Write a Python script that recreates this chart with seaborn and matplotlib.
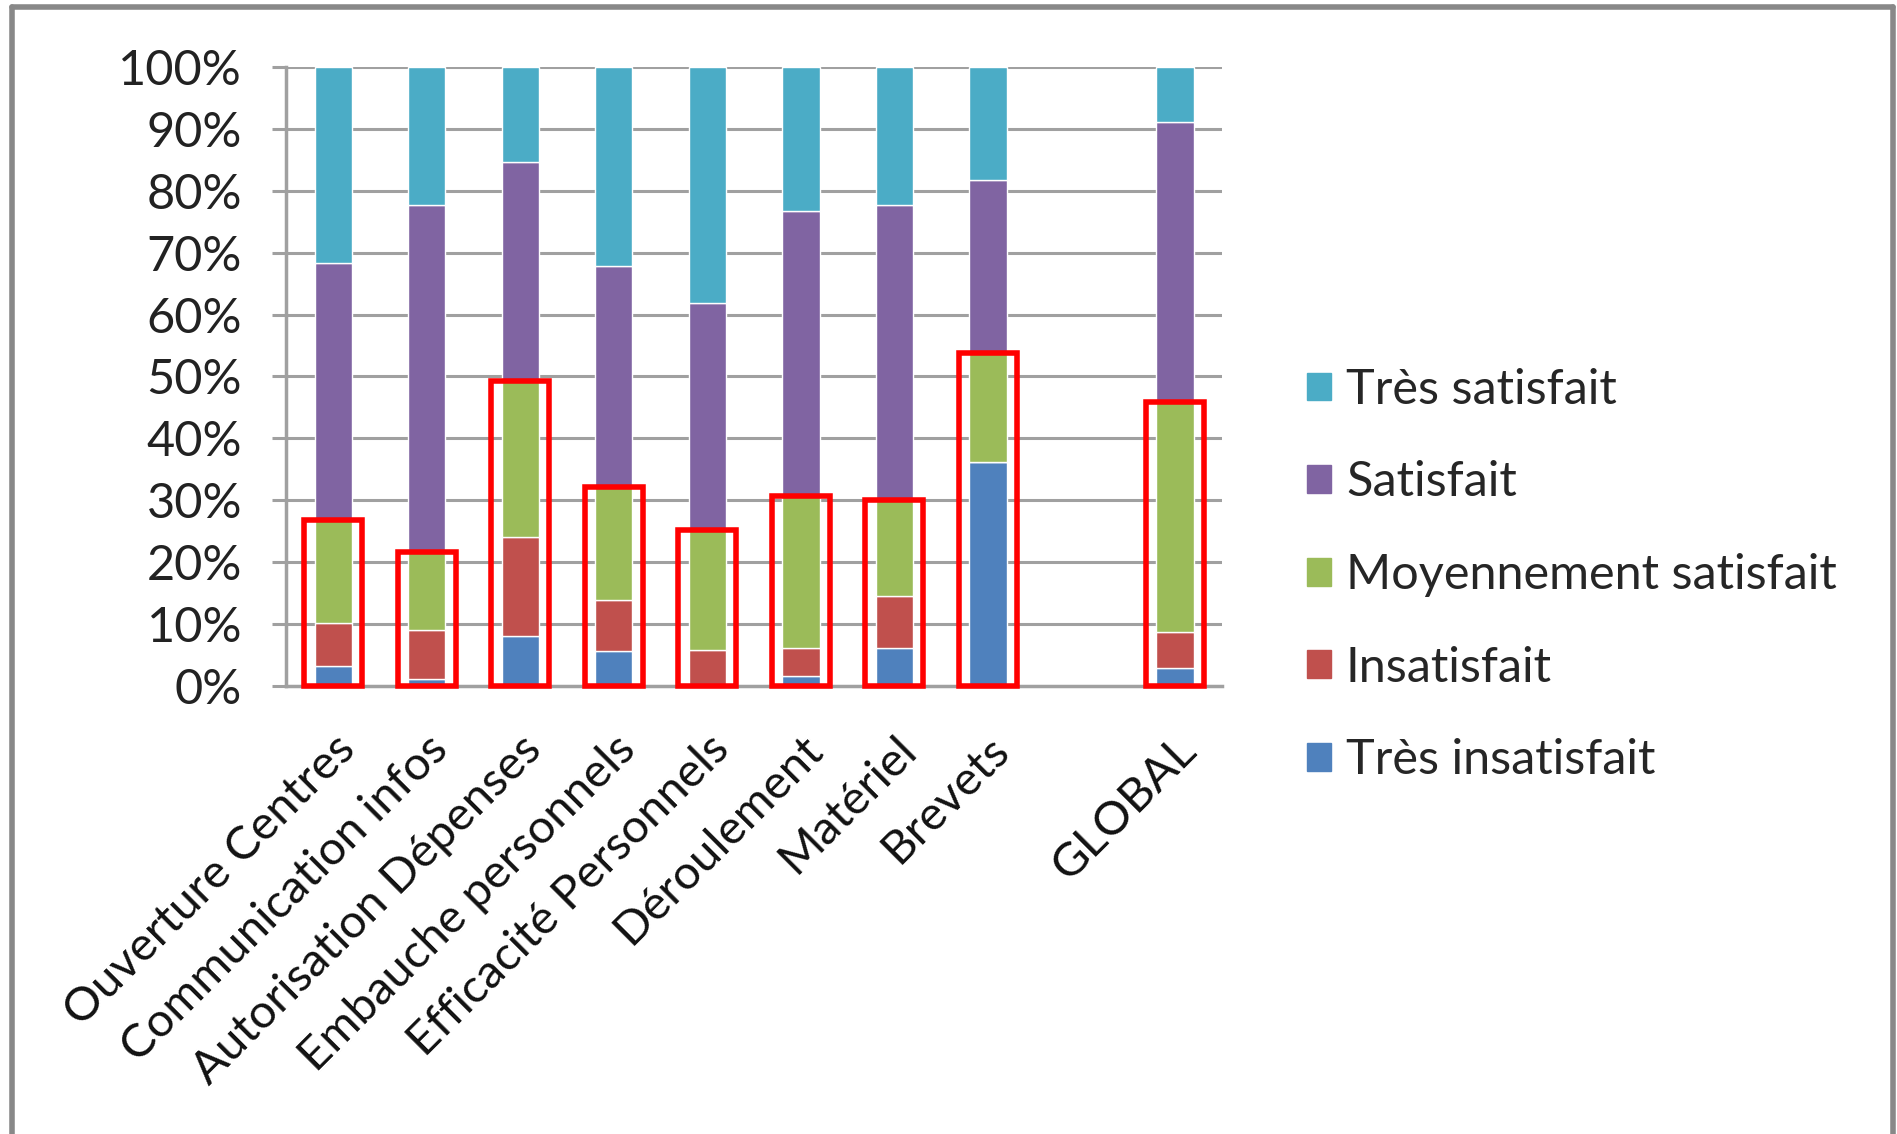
import pandas as pd
import matplotlib.pyplot as plt
import matplotlib.patches as mpatches
from matplotlib.lines import Line2D
import seaborn as sns


# Categories (empty slot between Brevets and GLOBAL like in the original sheet)
categories = ['Ouverture Centres', 'Communication infos', 'Autorisation Dépenses',
              'Embauche personnels', 'Efficacité Personnels', 'Déroulement',
              'Matériel', 'Brevets', '', 'GLOBAL']

# Shares in %
tres_insatisfait = [3.3, 1.2, 8.1, 5.7, 0.0, 1.6, 6.1, 36.2, 0.0, 2.9]
insatisfait = [6.9, 7.8, 15.9, 8.2, 5.8, 4.5, 8.5, 0.0, 0.0, 5.8]
moyennement = [16.7, 12.6, 25.2, 18.3, 19.4, 24.6, 15.4, 17.6, 0.0, 37.1]
satisfait = [41.4, 56.1, 35.4, 35.7, 36.7, 46.1, 47.7, 27.9, 0.0, 45.3]
tres_satisfait = [31.7, 22.3, 15.4, 32.1, 38.1, 23.2, 22.3, 18.3, 0.0, 8.9]

series = ['Très insatisfait', 'Insatisfait', 'Moyennement satisfait', 'Satisfait', 'Très satisfait']
colors = ['#4F81BD', '#C0504D', '#9BBB59', '#8064A2', '#4BACC6']

df = pd.DataFrame({
    'cat': categories,
    'Très insatisfait': tres_insatisfait,
    'Insatisfait': insatisfait,
    'Moyennement satisfait': moyennement,
    'Satisfait': satisfait,
    'Très satisfait': tres_satisfait,
})
df['pos'] = range(len(df))

sns.set_theme(style='white', rc={'figure.facecolor': 'white', 'axes.facecolor': 'white'})
plt.rcParams['font.family'] = ['Lato', 'DejaVu Sans']

fig = plt.figure(figsize=(18.97, 11.34), dpi=100)
ax = fig.add_axes([0.151, 0.395, 0.493, 0.546])

grid_c = '#A0A0A0'
for y in range(10, 101, 10):
    ax.axhline(y, color=grid_c, lw=2.2, zorder=0)

bottom = pd.Series([0.0] * len(df))
for name, col in zip(series, colors):
    sns.barplot(data=df, x='pos', y=name, order=list(df['pos']), color=col,
                width=0.40, bottom=bottom.values, ax=ax, zorder=2,
                saturation=1, native_scale=False)
    bottom = bottom + df[name]

# red highlight boxes round the lower three levels
low = df['Très insatisfait'] + df['Insatisfait'] + df['Moyennement satisfait']
for i, h in enumerate(low):
    if h <= 0:
        continue
    ax.add_patch(mpatches.Rectangle((i - 0.31, 0), 0.62, h, fill=False,
                                    edgecolor='#FF0000', lw=4, zorder=4,
                                    clip_on=False))

ax.set_xlim(-0.5, len(df) - 0.5)
ax.set_ylim(0, 100)
ax.set_yticks(range(0, 101, 10))
ax.set_yticklabels([f'{v}%' for v in range(0, 101, 10)], fontsize=35, color='#222222')
ax.set_xticks(range(len(df)))
ax.set_xticklabels(categories, fontsize=34, rotation=45, ha='right',
                   rotation_mode='anchor', color='#111111')
ax.set_xticks([x - 0.5 for x in range(len(df) + 1)], minor=True)
ax.tick_params(axis='x', which='major', length=0, pad=30)
ax.tick_params(axis='x', which='minor', length=10, width=2.2, color=grid_c, direction='out')
ax.tick_params(axis='y', length=10, width=2.2, color=grid_c, direction='out', pad=22, left=True)
ax.set_xlabel('')
ax.set_ylabel('')

for s in ['top', 'right']:
    ax.spines[s].set_visible(False)
for s in ['left', 'bottom']:
    ax.spines[s].set_color(grid_c)
    ax.spines[s].set_linewidth(2.5)

handles = [mpatches.Patch(color=c, label=n) for n, c in zip(series, colors)][::-1]
fig.legend(handles=handles, loc='center left', bbox_to_anchor=(0.689, 0.493),
           frameon=False, fontsize=35, handlelength=0.5, handleheight=0.5,
           handletextpad=0.3, labelspacing=1.0, borderpad=0, borderaxespad=0)

# grey frame round the picture (open at the bottom)
frame_c = '#888888'
fig.add_artist(Line2D([0.0065, 0.0065], [0.0, 0.9935], transform=fig.transFigure, color=frame_c, lw=4))
fig.add_artist(Line2D([0.0065, 0.998], [0.9935, 0.9935], transform=fig.transFigure, color=frame_c, lw=4))
fig.add_artist(Line2D([0.998, 0.998], [0.0, 0.9935], transform=fig.transFigure, color=frame_c, lw=4))

plt.savefig('out.png', dpi=100)
